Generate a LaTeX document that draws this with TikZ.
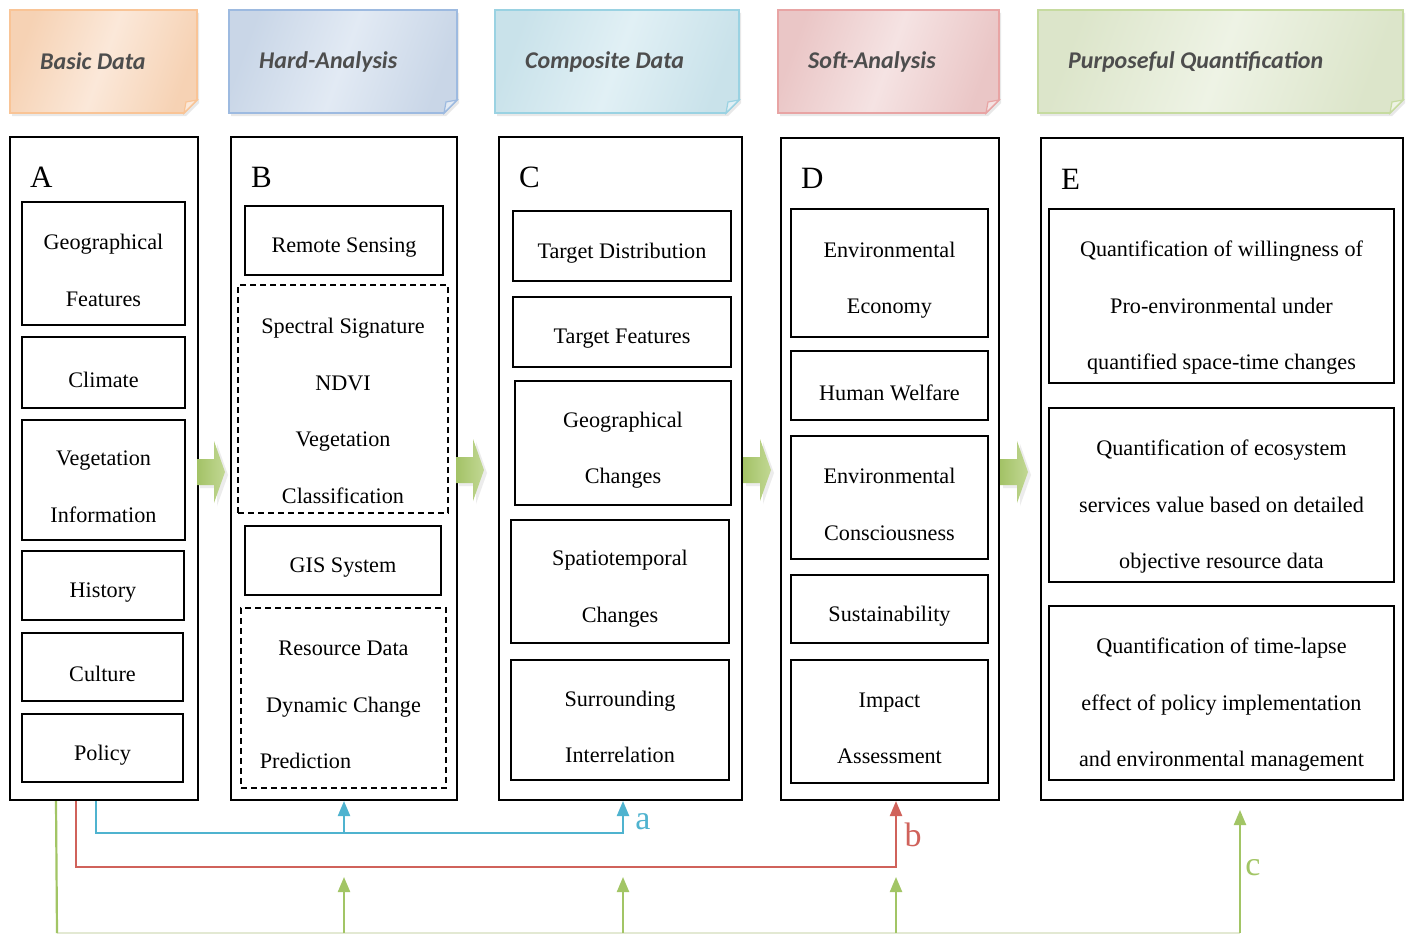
\documentclass[tikz,border=0pt]{standalone}
\usepackage{fontspec}
\setmainfont{Liberation Serif}
\newfontfamily\hfont{Carlito}
\usetikzlibrary{arrows.meta,shadows,calc}
\definecolor{orb}{HTML}{F9C496}\definecolor{ord}{HTML}{F6D2B4}\definecolor{orl}{HTML}{FBE8D9}
\definecolor{blb}{HTML}{9DBAE0}\definecolor{bld}{HTML}{C9D6E7}\definecolor{bll}{HTML}{E2EAF4}
\definecolor{cyb}{HTML}{9AD2E2}\definecolor{cyd}{HTML}{C9E2EA}\definecolor{cyl}{HTML}{E1F0F5}
\definecolor{pkb}{HTML}{E8A4A4}\definecolor{pkd}{HTML}{EAC6C6}\definecolor{pkl}{HTML}{F5E3E3}
\definecolor{gnb}{HTML}{C6DBA0}\definecolor{gnd}{HTML}{DCE5CA}\definecolor{gnl}{HTML}{EEF3E5}
\definecolor{htxt}{HTML}{4D4D4D}
\definecolor{cblue}{HTML}{4FB3CF}
\definecolor{cred}{HTML}{D0625B}
\definecolor{cgreen}{HTML}{A2C565}
\definecolor{cfaint}{HTML}{E3E9D3}
\definecolor{arL}{HTML}{A3C266}
\definecolor{arR}{HTML}{C2D894}
\newcommand\stickynote[7]{%
  \filldraw[draw=#6b, line width=1.6pt, left color=#6d, right color=#6d, middle color=#6l, shading angle=70,
    drop shadow={opacity=0.18, shadow xshift=2pt, shadow yshift=-3pt}]
    (#2,#3) -- (#4,#3) -- (#4,{#5-13}) -- ({#4-13},#5) -- (#2,#5) -- cycle;
  \filldraw[draw=#6b, line width=1.2pt, fill=#6l] (#4,{#5-13}) -- ({#4-13},#5) -- ({#4-11},{#5-11}) -- cycle;
  \node[htext, anchor=west] (#1) at ({#2+30},{(#3+#5)/2}) {#7};}
\newcommand\obx[5]{\node[obox, minimum width={(#4-#2)*1pt}, minimum height={(#5-#3)*1pt}] (#1) at ({(#2+#4)/2},{(#3+#5)/2}) {};}
\newcommand\ibx[7][7]{\node[ibox, minimum width={(#5-#3)*1pt}, minimum height={(#6-#4)*1pt}] (#2) at ({(#3+#5)/2},{(#4+#6)/2}) {};
  \node[btext] (#2t) at ($(#2.center)+(0,#1)$) {#7};}
\newcommand\dbx[7][7]{\node[dbox, minimum width={(#5-#3)*1pt}, minimum height={(#6-#4)*1pt}] (#2) at ({(#3+#5)/2},{(#4+#6)/2}) {};
  \node[btext] (#2t) at ($(#2.center)+(0,#1)$) {#7};}
\newcommand\blockarrow[2]{%
  \path[left color=arL, right color=arR, drop shadow={opacity=0.15, shadow xshift=3pt, shadow yshift=-3pt}]
    (#1,{#2-13}) -- ({#1+17},{#2-13}) -- ({#1+17},{#2-31}) -- ({#1+28},#2) -- ({#1+17},{#2+31}) -- ({#1+17},{#2+13}) -- (#1,{#2+13}) -- cycle;}
\begin{document}
\begin{tikzpicture}[x=1pt,y=-1pt,
  htext/.style={font=\hfont\bfseries\itshape\fontsize{24}{28}\selectfont, text=htxt, inner sep=0pt},
  obox/.style={draw=black, line width=2pt, fill=white, inner sep=0pt},
  ibox/.style={draw=black, line width=2pt, inner sep=0pt},
  btext/.style={inner sep=0pt, align=center, font=\fontsize{22.2}{56.5}\selectfont},
  dbox/.style={ibox, dash pattern=on 6pt off 4pt},
  letter/.style={font=\fontsize{31}{36}\selectfont, inner sep=0pt, anchor=west},
  conn/.style={line width=2.2pt},
  tip/.style={-{Triangle[length=15pt,width=12pt]}},
  clabel/.style={font=\fontsize{34}{38}\selectfont, inner sep=0pt}]
\useasboundingbox (0,0) rectangle (1409,934);
\fill[white] (0,0) rectangle (1409,934);
% header notes
\stickynote{hA}{10}{10}{197}{113}{or}{Basic Data}
\stickynote{hB}{229}{10}{457}{113}{bl}{Hard-Analysis}
\stickynote{hC}{495}{10}{739}{113}{cy}{Composite Data}
\stickynote{hD}{778}{10}{999}{113}{pk}{Soft-Analysis}
\stickynote{hE}{1038}{10}{1403}{113}{gn}{Purposeful Quantification}
% columns
\obx{colA}{10}{137}{198}{800}
\obx{colB}{231}{137}{457}{800}
\obx{colC}{499}{137}{742}{800}
\obx{colD}{781}{138}{999}{800}
\obx{colE}{1041}{138}{1403}{800}
\node[letter] (lA) at (30,177) {A};
\node[letter] (lB) at (251,177) {B};
\node[letter] (lC) at (519,177) {C};
\node[letter] (lD) at (801,178) {D};
\node[letter] (lE) at (1061,179) {E};
% column A
\ibx{a1}{22}{202}{185}{325}{Geographical\\Features}
\ibx{a2}{22}{337}{185}{408}{Climate}
\ibx{a3}{22}{420}{185}{540}{Vegetation\\Information}
\ibx{a4}{22}{551}{184}{620}{History}
\ibx{a5}{22}{633}{183}{701}{Culture}
\ibx{a6}{22}{714}{183}{782}{Policy}
% column B
\ibx{b1}{245}{206}{443}{275}{Remote Sensing}
\dbx[12]{b2}{238}{285}{448}{513}{Spectral Signature\\NDVI\\Vegetation\\Classification}
\ibx{b3}{245}{526}{441}{595}{GIS System}
\dbx[7]{b4}{241}{608}{446}{788}{Resource Data\\Dynamic Change\\\hspace*{-76pt}Prediction}
% column C
\ibx{c1}{513}{211}{731}{281}{Target Distribution}
\ibx{c2}{513}{297}{731}{367}{Target Features}
\ibx{c3}{515}{381}{731}{505}{Geographical\\Changes}
\ibx{c4}{511}{520}{729}{643}{Spatiotemporal\\Changes}
\ibx{c5}{511}{660}{729}{780}{Surrounding\\Interrelation}
% column D
\ibx{d1}{791}{209}{988}{337}{Environmental\\Economy}
\ibx{d2}{791}{351}{988}{420}{Human Welfare}
\ibx{d3}{791}{436}{988}{559}{Environmental\\Consciousness}
\ibx{d4}{791}{575}{988}{643}{Sustainability}
\ibx{d5}{791}{660}{988}{783}{Impact\\Assessment}
% column E
\ibx[12]{e1}{1049}{209}{1394}{383}{Quantification of willingness of\\Pro-environmental under\\quantified space-time changes}
\ibx[12]{e2}{1049}{408}{1394}{582}{Quantification of ecosystem\\services value based on detailed\\objective resource data}
\ibx[12]{e3}{1049}{606}{1394}{780}{Quantification of time-lapse\\effect of policy implementation\\and environmental management}
% block arrows
\blockarrow{197}{472}
\blockarrow{456}{470}
\blockarrow{743}{470}
\blockarrow{1000}{472}
% connectors
\coordinate (bl1) at ($(colA.south west)+(87,0)$);
\coordinate (bl2) at (344,833);
\coordinate (bl3) at (623,833);
\draw[conn, cblue, tip] (bl1) |- (bl3) -- (bl3 |- colC.south);
\draw[conn, cblue, tip] (bl2) -- (colB.south);
\node[clabel, text=cblue] (la) at (643,822) {a};
\coordinate (rd1) at ($(colA.south west)+(67,0)$);
\coordinate (rd2) at (896,867);
\draw[conn, cred, tip] (rd1) |- (rd2) -- (rd2 |- colD.south);
\node[clabel, text=cred] (lb) at (913,835) {b};
\coordinate (gn1) at ($(colA.south west)+(47,0)$);
\coordinate (gnB) at (57,933);
\coordinate (gnE) at (1240,933);
\draw[line width=1.6pt, cfaint] (gnB) -- (gnE);
\draw[conn, cgreen] (gn1) -- (gnB);
\draw[conn, cgreen, tip] (344,933) -- (344,877);
\draw[conn, cgreen, tip] (623,933) -- (623,877);
\draw[conn, cgreen, tip] (896,933) -- (896,877);
\draw[conn, cgreen, tip] (gnE) -- (1240,810);
\node[clabel, text=cgreen] (lc) at (1253,868) {c};
\end{tikzpicture}
\end{document}
